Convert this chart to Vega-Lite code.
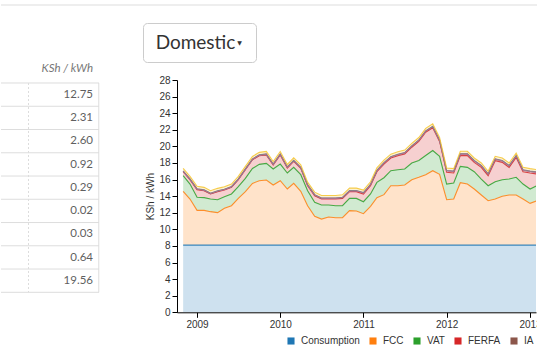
{
  "$schema": "https://vega.github.io/schema/vega-lite/v6.json",
  "padding": {"left": 0, "top": 4, "right": 0, "bottom": 0},
  "background": "white",
  "spacing": 16,
  "config": {"view": {"stroke": null}, "font": "Liberation Sans"},
  "datasets": {
    "tariff": [
      {"date":"2008-11-01","Consumption":8.1,"FCC":6.48,"VAT":1.89,"FERFA":0.48,"IA":0.05,"WRA":0.02,"ERC":0.03,"REP":0.3},
      {"date":"2008-12-01","Consumption":8.1,"FCC":5.55,"VAT":1.81,"FERFA":0.52,"IA":0.05,"WRA":0.02,"ERC":0.03,"REP":0.3},
      {"date":"2009-01-01","Consumption":8.1,"FCC":4.19,"VAT":1.57,"FERFA":0.92,"IA":0.05,"WRA":0.02,"ERC":0.03,"REP":0.3},
      {"date":"2009-02-01","Consumption":8.1,"FCC":4.19,"VAT":1.53,"FERFA":0.84,"IA":0.05,"WRA":0.02,"ERC":0.03,"REP":0.3},
      {"date":"2009-03-01","Consumption":8.1,"FCC":4.03,"VAT":1.52,"FERFA":0.61,"IA":0.05,"WRA":0.02,"ERC":0.03,"REP":0.3},
      {"date":"2009-04-01","Consumption":8.1,"FCC":3.91,"VAT":1.56,"FERFA":0.97,"IA":0.05,"WRA":0.02,"ERC":0.03,"REP":0.3},
      {"date":"2009-05-01","Consumption":8.1,"FCC":4.43,"VAT":1.40,"FERFA":0.81,"IA":0.05,"WRA":0.02,"ERC":0.03,"REP":0.3},
      {"date":"2009-06-01","Consumption":8.1,"FCC":4.75,"VAT":1.42,"FERFA":0.79,"IA":0.05,"WRA":0.02,"ERC":0.03,"REP":0.3},
      {"date":"2009-07-01","Consumption":8.1,"FCC":5.63,"VAT":1.42,"FERFA":0.83,"IA":0.05,"WRA":0.02,"ERC":0.03,"REP":0.3},
      {"date":"2009-08-01","Consumption":8.1,"FCC":6.44,"VAT":1.60,"FERFA":1.05,"IA":0.05,"WRA":0.02,"ERC":0.03,"REP":0.3},
      {"date":"2009-09-01","Consumption":8.1,"FCC":7.44,"VAT":1.80,"FERFA":1.05,"IA":0.05,"WRA":0.02,"ERC":0.03,"REP":0.3},
      {"date":"2009-10-01","Consumption":8.1,"FCC":7.76,"VAT":1.97,"FERFA":1.05,"IA":0.05,"WRA":0.02,"ERC":0.03,"REP":0.3},
      {"date":"2009-11-01","Consumption":8.1,"FCC":7.84,"VAT":2.01,"FERFA":1.01,"IA":0.08,"WRA":0.02,"ERC":0.03,"REP":0.3},
      {"date":"2009-12-01","Consumption":8.1,"FCC":7.24,"VAT":1.93,"FERFA":0.48,"IA":0.08,"WRA":0.02,"ERC":0.03,"REP":0.3},
      {"date":"2010-01-01","Consumption":8.1,"FCC":7.76,"VAT":2.01,"FERFA":1.09,"IA":0.08,"WRA":0.02,"ERC":0.03,"REP":0.3},
      {"date":"2010-02-01","Consumption":8.1,"FCC":6.76,"VAT":1.93,"FERFA":0.60,"IA":0.08,"WRA":0.02,"ERC":0.03,"REP":0.3},
      {"date":"2010-03-01","Consumption":8.1,"FCC":7.44,"VAT":1.93,"FERFA":0.72,"IA":0.08,"WRA":0.02,"ERC":0.03,"REP":0.3},
      {"date":"2010-04-01","Consumption":8.1,"FCC":6.48,"VAT":2.01,"FERFA":0.76,"IA":0.08,"WRA":0.02,"ERC":0.03,"REP":0.3},
      {"date":"2010-05-01","Consumption":8.1,"FCC":4.75,"VAT":1.81,"FERFA":0.60,"IA":0.08,"WRA":0.02,"ERC":0.03,"REP":0.3},
      {"date":"2010-06-01","Consumption":8.1,"FCC":3.47,"VAT":1.68,"FERFA":0.80,"IA":0.08,"WRA":0.02,"ERC":0.03,"REP":0.3},
      {"date":"2010-07-01","Consumption":8.1,"FCC":3.14,"VAT":1.69,"FERFA":0.72,"IA":0.08,"WRA":0.02,"ERC":0.03,"REP":0.3},
      {"date":"2010-08-01","Consumption":8.1,"FCC":3.38,"VAT":1.45,"FERFA":0.72,"IA":0.08,"WRA":0.02,"ERC":0.03,"REP":0.3},
      {"date":"2010-09-01","Consumption":8.1,"FCC":3.30,"VAT":1.45,"FERFA":0.80,"IA":0.08,"WRA":0.02,"ERC":0.03,"REP":0.3},
      {"date":"2010-10-01","Consumption":8.1,"FCC":3.30,"VAT":1.45,"FERFA":0.88,"IA":0.08,"WRA":0.02,"ERC":0.03,"REP":0.3},
      {"date":"2010-11-01","Consumption":8.1,"FCC":4.15,"VAT":1.48,"FERFA":0.81,"IA":0.08,"WRA":0.02,"ERC":0.03,"REP":0.3},
      {"date":"2010-12-01","Consumption":8.1,"FCC":4.11,"VAT":1.52,"FERFA":0.81,"IA":0.08,"WRA":0.02,"ERC":0.03,"REP":0.3},
      {"date":"2011-01-01","Consumption":8.1,"FCC":3.79,"VAT":1.44,"FERFA":0.93,"IA":0.12,"WRA":0.02,"ERC":0.03,"REP":0.3},
      {"date":"2011-02-01","Consumption":8.1,"FCC":4.67,"VAT":1.49,"FERFA":1.00,"IA":0.12,"WRA":0.02,"ERC":0.03,"REP":0.3},
      {"date":"2011-03-01","Consumption":8.1,"FCC":5.72,"VAT":1.84,"FERFA":1.29,"IA":0.12,"WRA":0.02,"ERC":0.03,"REP":0.3},
      {"date":"2011-04-01","Consumption":8.1,"FCC":6.08,"VAT":2.04,"FERFA":1.65,"IA":0.12,"WRA":0.02,"ERC":0.03,"REP":0.3},
      {"date":"2011-05-01","Consumption":8.1,"FCC":7.16,"VAT":1.81,"FERFA":1.52,"IA":0.12,"WRA":0.02,"ERC":0.03,"REP":0.3},
      {"date":"2011-06-01","Consumption":8.1,"FCC":7.16,"VAT":1.93,"FERFA":1.69,"IA":0.12,"WRA":0.02,"ERC":0.03,"REP":0.3},
      {"date":"2011-07-01","Consumption":8.1,"FCC":7.24,"VAT":1.93,"FERFA":1.81,"IA":0.12,"WRA":0.02,"ERC":0.03,"REP":0.3},
      {"date":"2011-08-01","Consumption":8.1,"FCC":7.88,"VAT":2.01,"FERFA":1.91,"IA":0.12,"WRA":0.02,"ERC":0.03,"REP":0.3},
      {"date":"2011-09-01","Consumption":8.1,"FCC":8.17,"VAT":2.03,"FERFA":2.30,"IA":0.12,"WRA":0.02,"ERC":0.03,"REP":0.3},
      {"date":"2011-10-01","Consumption":8.1,"FCC":8.49,"VAT":2.31,"FERFA":2.80,"IA":0.12,"WRA":0.02,"ERC":0.03,"REP":0.3},
      {"date":"2011-11-01","Consumption":8.1,"FCC":8.97,"VAT":2.43,"FERFA":2.75,"IA":0.12,"WRA":0.02,"ERC":0.03,"REP":0.3},
      {"date":"2011-12-01","Consumption":8.1,"FCC":8.53,"VAT":2.17,"FERFA":1.80,"IA":0.12,"WRA":0.02,"ERC":0.03,"REP":0.3},
      {"date":"2012-01-01","Consumption":8.1,"FCC":5.47,"VAT":1.89,"FERFA":1.41,"IA":0.18,"WRA":0.02,"ERC":0.03,"REP":0.3},
      {"date":"2012-02-01","Consumption":8.1,"FCC":5.55,"VAT":1.93,"FERFA":1.21,"IA":0.18,"WRA":0.02,"ERC":0.03,"REP":0.3},
      {"date":"2012-03-01","Consumption":8.1,"FCC":7.52,"VAT":1.97,"FERFA":1.29,"IA":0.18,"WRA":0.02,"ERC":0.03,"REP":0.3},
      {"date":"2012-04-01","Consumption":8.1,"FCC":7.36,"VAT":2.01,"FERFA":1.41,"IA":0.18,"WRA":0.02,"ERC":0.03,"REP":0.3},
      {"date":"2012-05-01","Consumption":8.1,"FCC":6.76,"VAT":2.09,"FERFA":1.12,"IA":0.18,"WRA":0.02,"ERC":0.03,"REP":0.3},
      {"date":"2012-06-01","Consumption":8.1,"FCC":6.04,"VAT":1.92,"FERFA":1.41,"IA":0.18,"WRA":0.02,"ERC":0.03,"REP":0.3},
      {"date":"2012-07-01","Consumption":8.1,"FCC":5.35,"VAT":1.81,"FERFA":1.21,"IA":0.18,"WRA":0.02,"ERC":0.03,"REP":0.3},
      {"date":"2012-08-01","Consumption":8.1,"FCC":5.55,"VAT":2.09,"FERFA":2.53,"IA":0.18,"WRA":0.02,"ERC":0.03,"REP":0.3},
      {"date":"2012-09-01","Consumption":8.1,"FCC":5.88,"VAT":2.00,"FERFA":2.09,"IA":0.18,"WRA":0.02,"ERC":0.03,"REP":0.3},
      {"date":"2012-10-01","Consumption":8.1,"FCC":6.04,"VAT":1.92,"FERFA":1.41,"IA":0.18,"WRA":0.02,"ERC":0.03,"REP":0.3},
      {"date":"2012-11-01","Consumption":8.1,"FCC":6.04,"VAT":2.13,"FERFA":2.40,"IA":0.18,"WRA":0.02,"ERC":0.03,"REP":0.3},
      {"date":"2012-12-01","Consumption":8.1,"FCC":5.55,"VAT":1.81,"FERFA":1.49,"IA":0.18,"WRA":0.02,"ERC":0.03,"REP":0.3},
      {"date":"2013-01-01","Consumption":8.1,"FCC":5.03,"VAT":1.73,"FERFA":1.93,"IA":0.18,"WRA":0.02,"ERC":0.03,"REP":0.3},
      {"date":"2013-02-01","Consumption":8.1,"FCC":5.35,"VAT":1.81,"FERFA":1.41,"IA":0.18,"WRA":0.02,"ERC":0.03,"REP":0.3}
    ],
    "rows": [
      {"row": 1, "value": "12.75"},
      {"row": 2, "value": "2.31"},
      {"row": 3, "value": "2.60"},
      {"row": 4, "value": "0.92"},
      {"row": 5, "value": "0.29"},
      {"row": 6, "value": "0.02"},
      {"row": 7, "value": "0.03"},
      {"row": 8, "value": "0.64"},
      {"row": 9, "value": "19.56"}
    ],
    "lines": [
      {"row": 1}, {"row": 2}, {"row": 3}, {"row": 4}, {"row": 5},
      {"row": 6}, {"row": 7}, {"row": 8}, {"row": 9}, {"row": 10}
    ]
  },
  "vconcat": [
    {
      "width": 537,
      "height": 2,
      "data": {"values": [{}]},
      "mark": {"type": "rect", "color": "#eeeeee"},
      "encoding": {}
    },
    {
      "spacing": 0,
      "vconcat": [
        {
          "spacing": 43,
          "hconcat": [
            {
              "width": 98,
              "height": 39,
              "data": {"values": [{}]},
              "mark": {"type": "rect", "opacity": 0},
              "encoding": {}
            },
            {
              "width": 113,
              "height": 39,
              "view": {"stroke": "#cccccc", "strokeWidth": 1, "cornerRadius": 4},
              "data": {"values": [{"label": "Domestic", "caret": "▼"}]},
              "layer": [
                {
                  "mark": {"type": "text", "font": "Lato", "fontSize": 19, "color": "#333333", "baseline": "middle", "dx": -4, "dy": 0},
                  "encoding": {"text": {"field": "label"}}
                },
                {
                  "mark": {"type": "text", "font": "DejaVu Sans", "fontSize": 6, "color": "#333333", "baseline": "middle", "dx": 40, "dy": 0},
                  "encoding": {"text": {"field": "caret"}}
                }
              ]
            }
          ]
        },
        {
          "spacing": 45,
          "hconcat": [
            {
              "width": 98,
              "height": 212.3,
              "layer": [
                {
                  "data": {"name": "lines"},
                  "mark": {"type": "rule", "color": "#dddddd", "strokeWidth": 1},
                  "encoding": {
                    "y": {"field": "row", "type": "quantitative", "scale": {"domain": [0.871, 10], "reverse": true, "nice": false, "zero": false}, "axis": null}
                  }
                },
                {
                  "data": {"values": [{}]},
                  "mark": {"type": "rule", "color": "#dddddd", "strokeWidth": 1, "strokeDash": [2, 2]},
                  "encoding": {
                    "x": {"datum": 0, "type": "quantitative", "scale": {"domain": [-0.39, 1], "nice": false, "zero": false}, "axis": null},
                    "y": {"datum": 1, "type": "quantitative"},
                    "y2": {"datum": 10}
                  }
                },
                {
                  "data": {"values": [{}]},
                  "mark": {"type": "rule", "color": "#dddddd", "strokeWidth": 1},
                  "encoding": {
                    "x": {"datum": 0.997, "type": "quantitative"},
                    "y": {"datum": 1, "type": "quantitative"},
                    "y2": {"datum": 10}
                  }
                },
                {
                  "data": {"name": "rows"},
                  "mark": {"type": "text", "align": "right", "baseline": "middle", "dx": -6, "dy": 11.8, "font": "Lato", "fontSize": 11.5, "color": "#5f5f5f"},
                  "encoding": {
                    "x": {"datum": 1, "type": "quantitative"},
                    "y": {"field": "row", "type": "quantitative"},
                    "text": {"field": "value"}
                  }
                },
                {
                  "data": {"values": [{"row": 0, "unit": "KSh / kWh"}]},
                  "mark": {"type": "text", "align": "right", "baseline": "middle", "dx": -6, "dy": 9.6, "font": "Lato", "fontSize": 11.5, "fontStyle": "italic", "color": "#777777"},
                  "encoding": {
                    "x": {"datum": 1, "type": "quantitative"},
                    "y": {"field": "row", "type": "quantitative"},
                    "text": {"field": "unit"}
                  }
                }
              ]
            },
            {
              "width": 359,
              "height": 232.3,
              "data": {"name": "tariff"},
              "transform": [
                {"fold": ["Consumption", "FCC", "VAT", "FERFA", "IA", "WRA", "ERC", "REP"], "as": ["series", "value"]},
                {"calculate": "indexof(['Consumption','FCC','VAT','FERFA','IA','WRA','ERC','REP'], datum.series)", "as": "ord"}
              ],
              "mark": {"type": "area", "fillOpacity": 0.22, "clip": true, "line": {"strokeWidth": 1.1, "strokeOpacity": 0.85}},
              "encoding": {
                "x": {
                  "field": "date", "type": "temporal",
                  "scale": {"domain": [{"year": 2008, "month": 10, "date": 5}, {"year": 2013, "month": 1, "date": 27}], "nice": false},
                  "axis": {
                    "title": null, "grid": false, "format": "%Y",
                    "values": [{"year": 2009, "month": 1, "date": 1}, {"year": 2010, "month": 1, "date": 1}, {"year": 2011, "month": 1, "date": 1}, {"year": 2012, "month": 1, "date": 1}, {"year": 2013, "month": 1, "date": 1}],
                    "labelFontSize": 10, "labelColor": "#333333", "tickSize": 5, "tickColor": "#000000", "domainColor": "#000000",
                    "labelPadding": 2, "labelFlush": false, "labelOverlap": false
                  }
                },
                "y": {
                  "field": "value", "type": "quantitative", "stack": "zero",
                  "scale": {"domain": [0, 28], "nice": false},
                  "axis": {
                    "title": "KSh / kWh", "titleFontSize": 10, "titleFontWeight": "normal", "titleColor": "#333333", "titlePadding": 3,
                    "values": [0, 2, 4, 6, 8, 10, 12, 14, 16, 18, 20, 22, 24, 26, 28],
                    "grid": false, "labelFontSize": 10, "labelColor": "#333333", "tickSize": 5, "tickColor": "#000000", "domainColor": "#000000"
                  }
                },
                "color": {
                  "field": "series", "type": "nominal",
                  "scale": {
                    "domain": ["Consumption", "FCC", "VAT", "FERFA", "IA", "WRA", "ERC", "REP"],
                    "range": ["#1f77b4", "#ff7f0e", "#2ca02c", "#d62728", "#8c564b", "#e377c2", "#7f7f7f", "#f4c430"]
                  },
                  "legend": {
                    "title": null, "orient": "none", "legendX": 285, "legendY": 332, "direction": "horizontal",
                    "values": ["Consumption", "FCC", "VAT", "FERFA", "IA"],
                    "symbolType": "square", "symbolSize": 50, "symbolOpacity": 1, "symbolStrokeWidth": 0,
                    "labelFontSize": 10, "labelColor": "#333333", "labelOffset": 5, "columnPadding": 8,
                    "encode": {"symbols": {"update": {"fillOpacity": {"value": 1}, "strokeWidth": {"value": 0}}}}
                  }
                },
                "order": {"field": "ord", "type": "quantitative"}
              }
            }
          ]
        }
      ]
    }
  ]
}
